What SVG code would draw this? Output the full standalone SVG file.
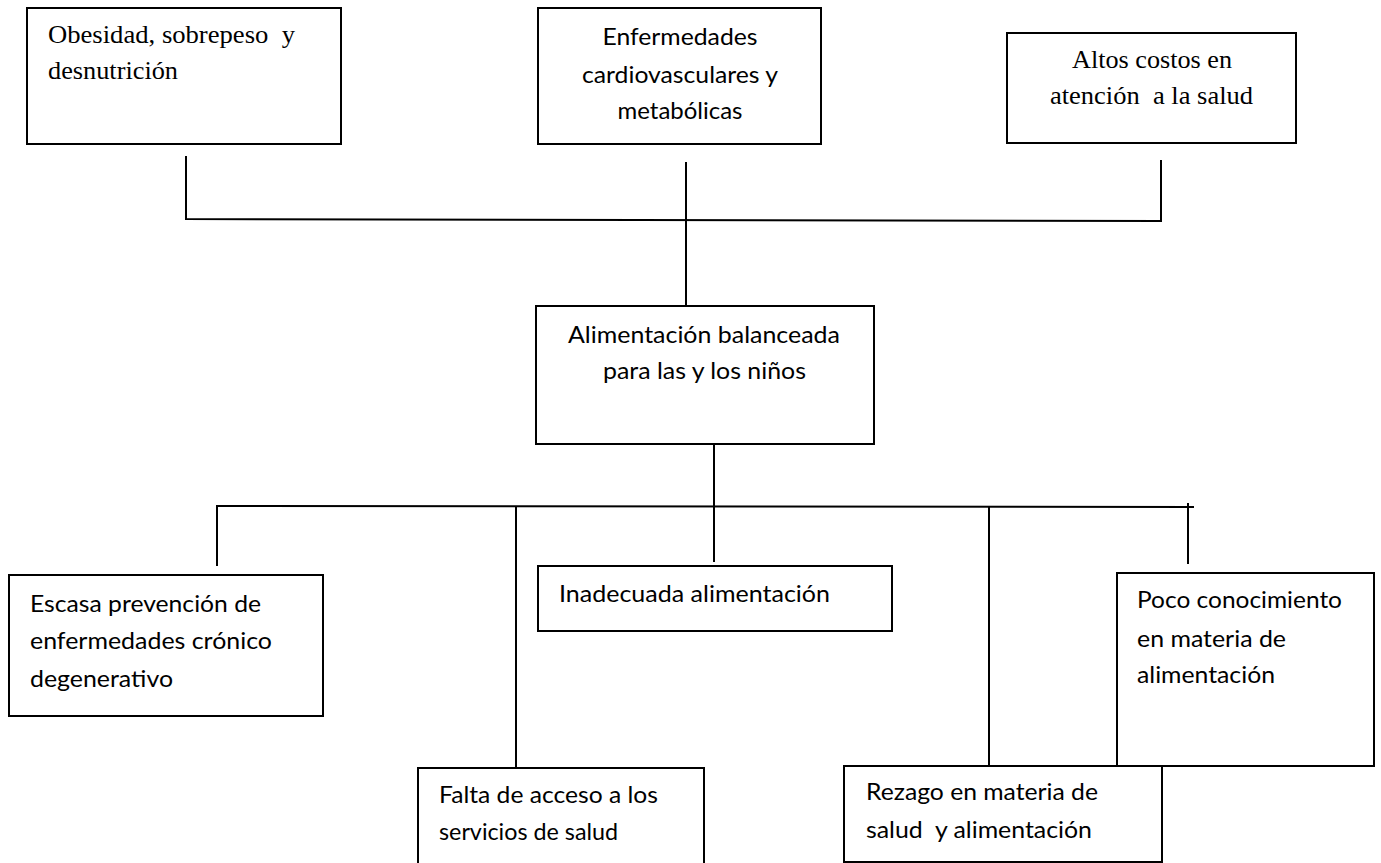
<svg xmlns="http://www.w3.org/2000/svg" width="1381" height="863" viewBox="0 0 1381 863">
<style>
.box{fill:#fff;stroke:#000;stroke-width:2}
.ln{fill:none;stroke:#000;stroke-width:2}
.tr{font-family:"Liberation Serif","Times New Roman",serif;font-size:25px;fill:#000}
.ca{font-family:Lato,"Open Sans","Liberation Sans",sans-serif;font-size:24px;fill:#000}
.mid{text-anchor:middle}
</style>
<rect width="1381" height="863" fill="#fff"/>
<g id="connectors">
<path class="ln" d="M186,156 V219 L1162,221 M1161,160 V221"/>
<path class="ln" d="M686,162 V306"/>
<path class="ln" d="M714,444 V562"/>
<path class="ln" d="M217,566 V506 L1194,507"/>
<path class="ln" d="M516,506 V768"/>
<path class="ln" d="M989,507 V766"/>
<path class="ln" d="M1188,503 V564"/>
</g>
<g id="n-obesidad">
<rect class="box" x="27" y="8" width="314" height="136"/>
<text class="tr" x="48" y="43" textLength="247" lengthAdjust="spacingAndGlyphs" xml:space="preserve">Obesidad, sobrepeso  y</text>
<text class="tr" x="48" y="79" textLength="130" lengthAdjust="spacingAndGlyphs">desnutrición</text>
</g>
<g id="n-enfermedades">
<rect class="box" x="538" y="8" width="283" height="136"/>
<text class="ca mid" x="680" y="45" textLength="155" lengthAdjust="spacingAndGlyphs">Enfermedades</text>
<text class="ca mid" x="680" y="83" textLength="196" lengthAdjust="spacingAndGlyphs">cardiovasculares y</text>
<text class="ca mid" x="680" y="119" textLength="125" lengthAdjust="spacingAndGlyphs">metabólicas</text>
</g>
<g id="n-costos">
<rect class="box" x="1007" y="33" width="289" height="110"/>
<text class="tr" x="1072" y="68" textLength="160" lengthAdjust="spacingAndGlyphs">Altos costos en</text>
<text class="tr" x="1050" y="104" textLength="203" lengthAdjust="spacingAndGlyphs" xml:space="preserve">atención  a la salud</text>
</g>
<g id="n-alimentacion">
<rect class="box" x="536" y="306" width="338" height="138"/>
<text class="ca" x="568" y="343" textLength="272" lengthAdjust="spacingAndGlyphs">Alimentación balanceada</text>
<text class="ca" x="603" y="379" textLength="203" lengthAdjust="spacingAndGlyphs">para las y los niños</text>
</g>
<g id="n-escasa">
<rect class="box" x="9" y="575" width="314" height="141"/>
<text class="ca" x="30" y="612" textLength="231" lengthAdjust="spacingAndGlyphs">Escasa prevención de</text>
<text class="ca" x="30" y="649" textLength="242" lengthAdjust="spacingAndGlyphs">enfermedades crónico</text>
<text class="ca" x="30" y="687" textLength="143" lengthAdjust="spacingAndGlyphs">degenerativo</text>
</g>
<g id="n-inadecuada">
<rect class="box" x="538" y="566" width="354" height="65"/>
<text class="ca" x="559" y="602" textLength="271" lengthAdjust="spacingAndGlyphs">Inadecuada alimentación</text>
</g>
<g id="n-falta">
<rect class="box" x="418" y="768" width="286" height="100"/>
<text class="ca" x="439" y="803" textLength="219" lengthAdjust="spacingAndGlyphs">Falta de acceso a los</text>
<text class="ca" x="439" y="840" textLength="179" lengthAdjust="spacingAndGlyphs">servicios de salud</text>
</g>
<g id="n-poco">
<rect class="box" x="1117" y="573" width="257" height="193"/>
<text class="ca" x="1137" y="608" textLength="205" lengthAdjust="spacingAndGlyphs">Poco conocimiento</text>
<text class="ca" x="1137" y="647" textLength="149" lengthAdjust="spacingAndGlyphs">en materia de</text>
<text class="ca" x="1137" y="683" textLength="138" lengthAdjust="spacingAndGlyphs">alimentación</text>
</g>
<g id="n-rezago">
<rect class="box" x="844" y="766" width="318" height="96"/>
<text class="ca" x="866" y="800" textLength="232" lengthAdjust="spacingAndGlyphs">Rezago en materia de</text>
<text class="ca" x="866" y="838" textLength="226" lengthAdjust="spacingAndGlyphs" xml:space="preserve">salud  y alimentación</text>
</g>
</svg>
